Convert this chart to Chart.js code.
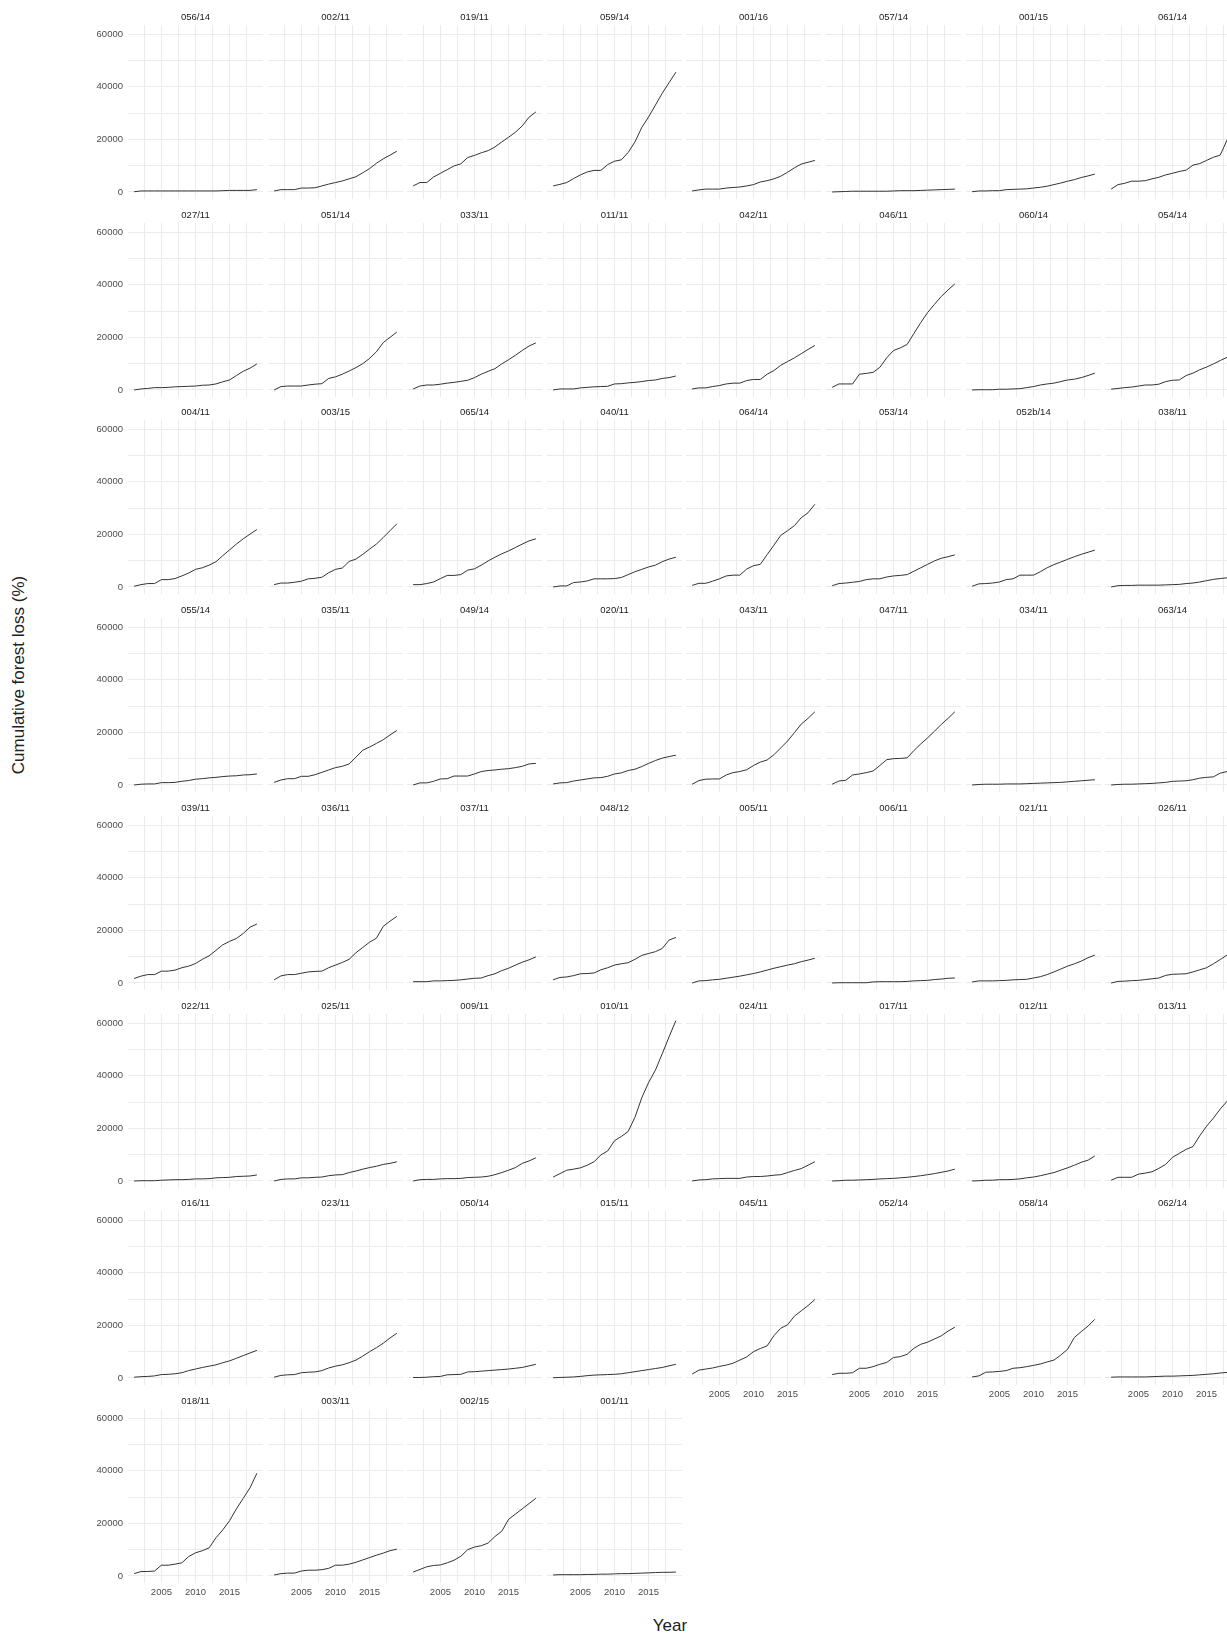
<!DOCTYPE html>
<html>
<head>
<meta charset="utf-8">
<script src="https://cdn.jsdelivr.net/npm/chart.js@4.4.1/dist/chart.umd.min.js"></script>
<style>
  html, body { margin: 0; padding: 0; background: #fff; overflow: hidden; }
  #wrap { position: relative; width: 1227px; height: 1636px; overflow: hidden; }
  #wrap canvas { position: absolute; }
  .axis-title { position: absolute; font-family: "Liberation Sans", Arial, sans-serif; font-size: 17px; color: #222; white-space: nowrap; }
  #ytitle { left: 19px; top: 675px; transform: translate(-50%, -50%) rotate(-90deg); }
  #xtitle { left: 670px; top: 1626px; transform: translate(-50%, -50%); }
</style>
</head>
<body>
<div id="wrap">
  <div id="ytitle" class="axis-title">Cumulative forest loss (%)</div>
  <div id="xtitle" class="axis-title">Year</div>
</div>
<script>
const years = [2001,2002,2003,2004,2005,2006,2007,2008,2009,2010,2011,2012,2013,2014,2015,2016,2017,2018,2019];
const xGridValues = [2002.5, 2005, 2007.5, 2010, 2012.5, 2015, 2017.5];
const yGridValues = [0, 10000, 20000, 30000, 40000, 50000, 60000];

// panel titles, left to right, top to bottom
const sites = [
  '056/14','002/11','019/11','059/14','001/16','057/14','001/15','061/14',
  '027/11','051/14','033/11','011/11','042/11','046/11','060/14','054/14',
  '004/11','003/15','065/14','040/11','064/14','053/14','052b/14','038/11',
  '055/14','035/11','049/14','020/11','043/11','047/11','034/11','063/14',
  '039/11','036/11','037/11','048/12','005/11','006/11','021/11','026/11',
  '022/11','025/11','009/11','010/11','024/11','017/11','012/11','013/11',
  '016/11','023/11','050/14','015/11','045/11','052/14','058/14','062/14',
  '018/11','003/11','002/15','001/11'
];

// cumulative loss per site, 2001..2019
const l056_14 = [100,400,400,400,400,400,400,400,400,400,400,400,400,500,600,600,600,600,900];
const l002_11 = [400,900,900,900,1500,1500,1600,2300,3000,3600,4200,5000,5800,7300,8900,10900,12600,14000,15500];
const l019_11 = [2300,3600,3600,5700,7100,8500,9900,10700,13100,13900,14900,15700,17100,19000,20800,22700,25100,28400,30400];
const l059_14 = [2300,2900,3600,5100,6500,7600,8200,8200,10400,11700,12200,15000,19000,24500,28500,33000,37500,41500,45500];
const l001_16 = [400,800,1100,1100,1100,1500,1700,1900,2300,2800,3800,4300,5000,6000,7500,9200,10600,11300,12000];
const l057_14 = [0,100,200,300,300,300,300,300,300,400,500,500,500,600,700,800,900,1000,1100];
const l001_15 = [100,400,400,500,500,900,1000,1100,1200,1500,1800,2200,2800,3400,4100,4700,5500,6100,6800];
const l061_14 = [1100,2800,3300,4100,4100,4300,5000,5600,6500,7100,7800,8300,10200,10800,12000,13200,14000,19700,25000];

const l027_11 = [0,400,600,900,900,1000,1200,1300,1400,1500,1800,1900,2300,3100,3800,5500,7100,8300,9900];
const l051_14 = [0,1300,1500,1500,1500,1900,2200,2400,4400,5000,6000,7200,8500,10000,12000,14500,18000,20000,22000];
const l033_11 = [400,1500,1900,1900,2200,2600,2900,3300,3700,4700,6000,7100,8100,9900,11500,13200,15000,16700,17900];
const l011_11 = [0,400,400,400,800,1000,1200,1300,1400,2300,2400,2700,2900,3200,3600,3800,4400,4700,5300];
const l042_11 = [400,800,800,1300,1700,2300,2600,2600,3600,4000,4000,6000,7400,9400,10800,12200,13800,15400,16900];
const l046_11 = [1000,2300,2300,2300,6000,6300,6700,8600,12200,15000,16000,17300,21500,25600,29400,32500,35500,38000,40300];
const l060_14 = [0,100,100,100,300,300,400,500,900,1300,1900,2300,2600,3200,3800,4100,4700,5500,6400];
const l054_14 = [300,600,900,1100,1500,1900,1900,2200,3200,3700,3800,5500,6400,7700,8700,9900,11200,12400,13800];

const l004_11 = [300,900,1300,1300,2800,2800,3200,4200,5300,6700,7300,8300,9600,11900,14100,16300,18300,20100,21800];
const l003_15 = [900,1500,1500,1800,2200,3100,3300,3700,5400,6700,7200,9700,10600,12400,14400,16300,18800,21400,24000];
const l065_14 = [900,900,1300,1900,3200,4400,4400,4700,6400,6900,8300,9900,11300,12600,13700,15000,16300,17500,18300];
const l040_11 = [0,400,400,1700,1900,2300,3100,3100,3100,3200,3600,4700,5800,6700,7600,8300,9600,10600,11300];
const l064_14 = [600,1400,1400,2200,3100,4200,4500,4500,6800,8100,8600,12300,15900,19600,21400,23300,26300,28200,31400];
const l053_14 = [500,1300,1500,1800,2100,2800,3100,3100,3800,4200,4400,4700,6000,7300,8600,9900,10900,11500,12200];
const l052b_14 = [300,1200,1300,1500,1900,2800,3100,4500,4500,4500,5800,7300,8500,9500,10500,11500,12400,13200,14000];
const l038_11 = [0,500,600,600,700,700,700,700,800,900,1000,1300,1500,1900,2400,2900,3200,3500,3900];

const l055_14 = [0,300,400,400,900,900,1000,1400,1700,2200,2400,2700,2900,3200,3400,3500,3800,3900,4200];
const l035_11 = [1000,1900,2400,2400,3300,3300,3900,4800,5700,6600,7100,8000,10600,13200,14400,15800,17200,19000,20700];
const l049_14 = [0,800,800,1400,2300,2400,3400,3400,3400,4200,5100,5500,5700,6000,6200,6600,7100,8000,8200];
const l020_11 = [400,800,900,1500,1900,2300,2700,2800,3300,4200,4600,5500,6000,7000,8200,9300,10200,10800,11300];
const l043_11 = [300,1700,2200,2300,2300,3800,4700,5100,5800,7400,8700,9500,11500,14100,16700,19900,23100,25300,27800];
const l047_11 = [300,1500,1800,3800,4200,4700,5300,7400,9600,10000,10100,10300,13100,15600,17900,20400,23000,25300,27800];
const l034_11 = [0,200,300,300,300,400,400,400,500,600,700,800,900,1000,1200,1400,1600,1800,2000];
const l063_14 = [0,200,300,300,400,500,600,800,1000,1400,1500,1600,2000,2600,2900,3100,4500,5100,5800];

const l039_11 = [1700,2600,3200,3200,4500,4500,4900,5800,6400,7400,9000,10300,12400,14500,15800,16900,18800,21200,22400];
const l036_11 = [1200,2700,3200,3200,3700,4200,4400,4500,5800,6800,7800,9000,11500,13500,15500,17000,21500,23500,25300];
const l037_11 = [500,500,500,800,800,900,1000,1200,1500,1800,1900,2800,3500,4700,5600,6800,7900,8800,9900];
const l048_12 = [1200,2100,2300,2800,3500,3600,3800,5000,5800,6800,7300,7700,9000,10500,11200,11900,13100,16300,17300];
const l005_11 = [0,800,900,1200,1400,1800,2200,2600,3100,3600,4200,4900,5600,6200,6800,7300,8100,8700,9400];
const l006_11 = [0,100,100,100,100,100,400,500,500,500,500,600,800,900,1000,1300,1500,1800,1900];
const l021_11 = [400,800,800,800,900,1000,1200,1300,1400,1900,2400,3200,4200,5300,6400,7300,8300,9600,10600];
const l026_11 = [0,600,700,900,1000,1300,1600,1900,2900,3300,3400,3500,4200,5000,5800,7300,8900,10600,12300];

const l022_11 = [0,100,100,100,300,400,500,500,600,800,800,900,1200,1300,1400,1700,1800,1900,2300];
const l025_11 = [0,600,800,800,1200,1200,1400,1500,2000,2300,2400,3200,3800,4500,5100,5600,6300,6700,7300];
const l009_11 = [0,500,600,600,800,900,900,1000,1300,1400,1500,1800,2400,3200,4100,5100,6700,7600,8800];
const l010_11 = [1500,2800,4100,4500,5000,6000,7300,9900,11400,15300,16900,18800,24200,31600,37400,42100,48300,54700,60900];
const l024_11 = [0,400,500,800,900,1000,1000,1000,1500,1700,1700,1900,2200,2400,3200,4000,4700,6000,7300];
const l017_11 = [0,100,300,300,400,500,600,800,900,1000,1200,1400,1700,2000,2400,2800,3300,3800,4500];
const l012_11 = [0,100,300,300,500,500,600,800,1200,1500,2000,2600,3200,4100,5000,6000,7100,7900,9500];
const l013_11 = [300,1400,1400,1400,2600,3000,3500,4800,6300,9000,10500,12000,13100,17200,20800,23900,27300,30300,33500];

const l016_11 = [300,500,600,800,1300,1400,1600,2000,2800,3400,4000,4500,5000,5800,6500,7500,8500,9500,10500];
const l023_11 = [300,1000,1200,1300,2000,2200,2300,2800,3800,4500,5000,5800,6800,8300,10000,11500,13200,15200,17000];
const l050_14 = [200,200,300,500,600,1200,1300,1400,2300,2400,2600,2800,3000,3200,3400,3700,4000,4600,5200];
const l015_11 = [100,200,300,400,600,900,1100,1200,1300,1400,1600,2000,2400,2800,3200,3600,4000,4600,5200];
const l045_11 = [1500,3000,3400,3800,4400,4900,5600,6800,8000,10000,11200,12200,16100,18900,20200,23500,25500,27500,29800];
const l052_14 = [1300,1800,1800,2000,3700,3700,4300,5200,5900,7800,8100,9000,11300,12800,13600,14800,16000,17800,19300];
const l058_14 = [400,800,2200,2300,2500,2800,3700,3900,4300,4800,5300,6100,6800,8700,10900,15400,17600,19700,22300];
const l062_14 = [300,400,400,400,400,400,500,600,700,700,800,900,1000,1200,1400,1600,1900,2100,2300];

const l018_11 = [900,1700,1700,1900,4100,4100,4500,5000,7400,8800,9600,10700,14500,17500,21000,25500,29500,33500,39000];
const l003_11 = [400,900,1100,1100,1900,2200,2200,2400,2900,4100,4100,4500,5200,6100,7000,7900,8700,9600,10200];
const l002_15 = [1500,2500,3500,4000,4200,5000,6000,7500,10000,11000,11500,12500,15000,17000,21500,23500,25500,27500,29500];
const l001_11 = [400,500,500,500,500,600,600,700,700,800,900,900,1000,1100,1200,1300,1400,1400,1500];

const losses = [
  l056_14, l002_11, l019_11, l059_14, l001_16, l057_14, l001_15, l061_14,
  l027_11, l051_14, l033_11, l011_11, l042_11, l046_11, l060_14, l054_14,
  l004_11, l003_15, l065_14, l040_11, l064_14, l053_14, l052b_14, l038_11,
  l055_14, l035_11, l049_14, l020_11, l043_11, l047_11, l034_11, l063_14,
  l039_11, l036_11, l037_11, l048_12, l005_11, l006_11, l021_11, l026_11,
  l022_11, l025_11, l009_11, l010_11, l024_11, l017_11, l012_11, l013_11,
  l016_11, l023_11, l050_14, l015_11, l045_11, l052_14, l058_14, l062_14,
  l018_11, l003_11, l002_15, l001_11
];

Chart.defaults.font.family = '"Liberation Sans", Arial, sans-serif';
Chart.defaults.animation = false;

const NCOL = 8;
const wrap = document.getElementById('wrap');

sites.forEach((site, i) => {
  const r = Math.floor(i / NCOL), c = i % NCOL;
  const plotLeft = Math.round(128 + 139.6 * c);
  const plotTop = Math.round(25 + 197.7 * r);
  const lastInCol = (i + NCOL >= sites.length);

  const cv = document.createElement('canvas');
  cv.width = 175; cv.height = 210;
  cv.style.left = (plotLeft - 40) + 'px';
  cv.style.top = (plotTop - 16) + 'px';
  wrap.appendChild(cv);

  const grid = { color: '#ebebeb', lineWidth: 1, drawTicks: false };

  new Chart(cv, {
    type: 'line',
    data: {
      datasets: [{
        data: years.map((y, k) => ({ x: y, y: losses[i][k] })),
        borderColor: '#333',
        borderWidth: 1,
        pointRadius: 0,
        tension: 0
      }]
    },
    options: {
      responsive: false,
      events: [],
      layout: { padding: 0, autoPadding: false },
      plugins: {
        legend: { display: false },
        tooltip: { enabled: false },
        title: {
          display: true, text: site, fullSize: false, color: '#1a1a1a',
          font: { size: 9.5, weight: 'normal', lineHeight: 1 },
          padding: { top: 4, bottom: 2.5 }
        }
      },
      scales: {
        x: {
          type: 'linear', min: 2000.1, max: 2019.9,
          afterBuildTicks: s => { s.ticks = xGridValues.map(v => ({ value: v })); },
          afterFit: s => { s.height = 20; },
          grid: grid,
          border: { display: false },
          ticks: {
            display: lastInCol, autoSkip: false, maxRotation: 0, padding: 4,
            color: '#4d4d4d', font: { size: 9.5 },
            callback: v => (v % 5 === 0 ? String(v) : '')
          }
        },
        y: {
          min: -2660, max: 63420,
          afterBuildTicks: s => { s.ticks = yGridValues.map(v => ({ value: v })); },
          afterFit: s => { s.width = 40; },
          grid: grid,
          border: { display: false },
          ticks: {
            display: c === 0, autoSkip: false, padding: 5,
            color: '#4d4d4d', font: { size: 9.5 },
            callback: v => (v % 20000 === 0 ? String(v) : '')
          }
        }
      }
    }
  });
});
</script>
</body>
</html>
